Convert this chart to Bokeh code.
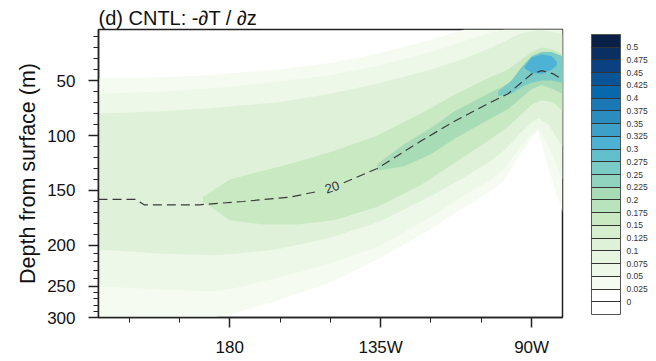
import numpy as np
from bokeh.plotting import figure
from bokeh.models import (Range1d, FixedTicker, ColorBar, LinearColorMapper, Title)
from bokeh.core.properties import value
from bokeh.embed import file_html
from bokeh.resources import INLINE

# ---------------- data ----------------
# colour levels of the colour bar
levels = [0, 0.025, 0.05, 0.075, 0.1, 0.125, 0.15, 0.175, 0.2, 0.225, 0.25,
          0.275, 0.3, 0.325, 0.35, 0.375, 0.4, 0.425, 0.45, 0.475, 0.5]
level_labels = ["0", "0.025", "0.05", "0.075", "0.1", "0.125", "0.15", "0.175",
                "0.2", "0.225", "0.25", "0.275", "0.3", "0.325", "0.35", "0.375",
                "0.4", "0.425", "0.45", "0.475", "0.5"]
palette = ["#ffffff", "#ffffff", "#f5fbf0", "#eef8e8", "#e6f5e0", "#dff2d9",
           "#d4eece", "#c9e9c3", "#b9e3bd", "#a7dcb7", "#90d3bf", "#7acbc5",
           "#63bfcc", "#4db2d3", "#3ca0c8", "#2b8cbe", "#1a79b4", "#0868ac",
           "#0a5598", "#0b4180", "#0a2f62", "#0a2147"]

# 20 degC isotherm (longitude in degE, depth m); NaN = gap for label
iso_lon = [140.9, 145, 152, 154.5, 171, 184, 198, 206, np.nan, 214, 224, 237, 247, 257, 263, 270, 273, 276.5, 279.2]
iso_dep = [158, 158, 158, 163, 163, 160, 156, 151, np.nan, 143, 130, 105, 87, 71, 62, 44, 41, 44, 49]
iso_label_lon = [210.5]
iso_label_dep = [147]
iso_label_txt = ["20"]

# filled bands of -dT/dz: (level, lon, top depth, bottom depth)
b025_lon = [140.9, 160, 175, 182, 194, 210, 225, 240, 250, 258, 262, 266, 270, 272, 275, 279.2]
b025_top = [48, 47, 45, 43, 40, 34, 25, 13, 3.6, 3.6, 3.6, 3.6, 3.6, 3.6, 3.6, 3.6]
b025_bot = [300, 300, 300, 292, 273, 245, 215, 185, 165, 150, 140, 120, 102, 96, 130, 170]

b050_lon = b025_lon
b050_top = [62, 60, 57, 55, 51, 45, 36, 24, 14, 6, 3.6, 3.6, 3.6, 3.6, 3.6, 3.6]
b050_bot = [250, 255, 258, 252, 240, 222, 200, 174, 154, 140, 130, 113, 99, 93, 110, 140]

b100_lon = b025_lon
b100_top = [80, 78, 75, 73, 70, 62, 52, 40, 30, 20, 14, 8, 5, 4, 5, 8]
b100_bot = [205, 210, 212, 210, 205, 193, 178, 155, 138, 123, 113, 100, 88, 84, 90, 110]

b150_lon = [172, 180, 190, 200, 211, 224, 237, 247, 257, 263, 270, 273, 276.5, 279.2]
b150_top = [156, 140, 132, 124, 114, 100, 80, 63, 48, 40, 24, 20, 22, 26]
b150_bot = [160, 177, 181, 181, 177, 165, 145, 125, 105, 92, 72, 68, 70, 78]

b200_lon = [224, 232, 240, 247, 257, 263, 270, 273, 276.5, 279.2]
b200_top = [126, 108, 93, 78, 62, 53, 34, 30, 32, 38]
b200_bot = [132, 128, 117, 103, 86, 76, 58, 54, 58, 62]

b250_lon = [260, 264, 267, 270, 273, 276, 279.2]
b250_top = [60, 50, 38, 28, 24, 24, 28]
b250_bot = [64, 62, 56, 52, 50, 50, 52]

b300_lon = [268, 270, 273, 276, 277.5]
b300_top = [37, 29, 26, 28, 33]
b300_bot = [39, 43, 44, 40, 36]

bands = [(0.025, b025_lon, b025_top, b025_bot),
         (0.05, b050_lon, b050_top, b050_bot),
         (0.1, b100_lon, b100_top, b100_bot),
         (0.15, b150_lon, b150_top, b150_bot),
         (0.2, b200_lon, b200_top, b200_bot),
         (0.25, b250_lon, b250_top, b250_bot),
         (0.3, b300_lon, b300_top, b300_bot)]

# axis ticks
x_major = [180, 225, 270]
x_major_labels = ["180", "135W", "90W"]
x_minor = [150, 165, 195, 210, 240, 255]
y_major = [50, 100, 150, 200, 250, 300]
y_minor = list(range(10, 300, 10))

# ---------------- irregular depth axis ----------------
knot_dep = [0, 200, 250, 300]
knot_pos = [0, 200, 237.3, 265.5]


def dmap(d):
    return np.round(np.interp(np.asarray(d, dtype=float), knot_dep, knot_pos), 2)


FONT = "Liberation Sans"

p = figure(frame_width=464, frame_height=288,
           x_range=Range1d(140.9, 279.2), y_range=Range1d(265.5, 3.6),
           output_backend="svg", toolbar_location=None,
           min_border_left=98, min_border_top=29, min_border_bottom=0,
           min_border_right=0)
p.grid.visible = False
p.background_fill_color = "white"
p.outline_line_color = "#222222"
p.outline_line_width = 1.5

# filled bands
for lev, lon, top, bot in bands:
    idx = int(round(lev / 0.025)) + 1
    p.varea(x=lon, y1=dmap(top), y2=dmap(bot), fill_color=palette[idx],
            fill_alpha=1.0)

# isotherm
iso_y = [np.nan if (d != d) else float(dmap(d)) for d in iso_dep]
p.line(iso_lon, iso_y, line_color="#3a3a3a", line_width=1.2, line_dash="9 5")
p.text(iso_label_lon, [float(dmap(d)) for d in iso_label_dep], text=iso_label_txt,
       angle=0.33, text_align="center", text_baseline="middle",
       text_font=value(FONT), text_font_size="13px", text_color="#333333")

# axes
xa = p.xaxis[0]
xa.ticker = FixedTicker(ticks=x_major, minor_ticks=x_minor)
xa.major_label_overrides = {k: v for k, v in zip(x_major, x_major_labels)}
ya = p.yaxis[0]
ymaj = [float(v) for v in dmap(y_major)]
ya.ticker = FixedTicker(ticks=ymaj,
                        minor_ticks=[float(v) for v in dmap(y_minor) if v not in ymaj])
ya.major_label_overrides = {k: str(v) for k, v in zip(ymaj, y_major)}
ya.axis_label = "Depth from surface (m)"
for ax in (xa, ya):
    ax.axis_line_color = "#222222"
    ax.axis_line_width = 1.5
    ax.major_tick_line_color = "#222222"
    ax.major_tick_line_width = 1.5
    ax.minor_tick_line_color = "#222222"
    ax.major_tick_out = 10
    ax.major_tick_in = 0
    ax.minor_tick_out = 5
    ax.minor_tick_in = 0
    ax.major_label_text_font = FONT
    ax.major_label_text_font_size = "17px"
    ax.major_label_text_color = "#111111"
xa.major_label_standoff = 10
ya.major_label_standoff = 13
ya.axis_label_text_font = FONT
ya.axis_label_text_font_size = "21.5px"
ya.axis_label_text_font_style = "normal"
ya.axis_label_text_color = "#111111"
ya.axis_label_standoff = 4

# title
t = Title(text="(d) CNTL: -\u2202T / \u2202z", text_font=FONT,
          text_font_size="20px", text_font_style="normal", text_color="#111111",
          offset=0, standoff=2)
p.add_layout(t, "above")

# colour bar
mapper = LinearColorMapper(palette=palette, low=-0.025, high=0.525)
cb = ColorBar(color_mapper=mapper, width=29, height=280,
              ticker=FixedTicker(ticks=levels),
              major_label_overrides={k: v for k, v in zip(levels, level_labels)},
              major_label_text_font=FONT, major_label_text_font_size="8.5px",
              major_label_text_color="#333333",
              major_tick_in=29, major_tick_out=0,
              major_tick_line_color="#333333", major_tick_line_width=1,
              bar_line_color="#555555", bar_line_width=1,
              label_standoff=6, padding=0, margin=0,
              location=(29, 3), background_fill_alpha=0,
              border_line_color=None)
p.add_layout(cb, "right")

open("out.html", "w").write(file_html(p, INLINE))
